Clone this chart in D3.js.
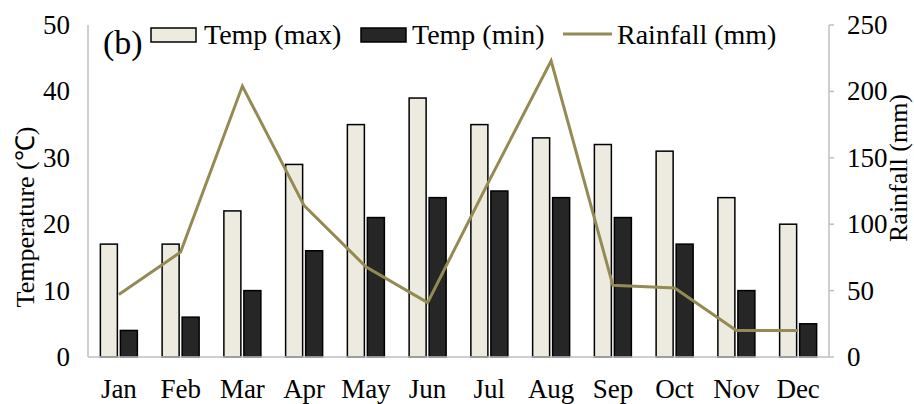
<!DOCTYPE html>
<html>
<head>
<meta charset="utf-8">
<script src="https://cdn.jsdelivr.net/npm/d3@7"></script>
<style>
  body { margin: 0; background: #fff; }
  svg text { font-family: "Liberation Serif", "Times New Roman", serif; fill: #000; }
</style>
</head>
<body>
<svg id="chart" width="914" height="404"></svg>
<script>
  let months = ["Jan", "Feb", "Mar", "Apr", "May", "Jun", "Jul", "Aug", "Sep", "Oct", "Nov", "Dec"];
  let tempMax = [17, 17, 22, 29, 35, 39, 35, 33, 32, 31, 24, 20];
  let tempMin = [4, 6, 10, 16, 21, 24, 25, 24, 21, 17, 10, 5];
  let rainfall = [47, 79, 204, 114, 68, 41, 133, 223, 54, 52, 20, 20];
  let tempTicks = [0, 10, 20, 30, 40, 50];
  let rainTicks = [0, 50, 100, 150, 200, 250];

(function() {
  let plotLeft = 88, plotRight = 829, plotTop = 25, plotBottom = 357;
  let fontSize = 27;
  let legendSize = 28;
  let maxFill = "#edebe0", minFill = "#262626", lineColor = "#948a54", axisColor = "#bfbfbf";

  let svg = d3.select("#chart");

  // scales
  let xScale = d3.scaleBand().domain(months).range([plotLeft, plotRight]);
  let yScale = d3.scaleLinear().domain([0, 50]).range([plotBottom, plotTop]);
  let yScale2 = d3.scaleLinear().domain([0, 250]).range([plotBottom, plotTop]);

  let barW = 17, gap = 3;
  let cx = m => xScale(m) + xScale.bandwidth() / 2;

  // axes lines
  svg.append("line").attr("x1", plotLeft).attr("x2", plotLeft).attr("y1", plotTop).attr("y2", plotBottom)
     .attr("stroke", axisColor).attr("stroke-width", 1.5);
  svg.append("line").attr("x1", plotRight).attr("x2", plotRight).attr("y1", plotTop).attr("y2", plotBottom)
     .attr("stroke", axisColor).attr("stroke-width", 1.5);

  // left tick labels
  svg.selectAll(".ltick").data(tempTicks).enter().append("text")
     .attr("x", 70).attr("y", d => yScale(d)).attr("dy", "0.33em")
     .attr("text-anchor", "end").attr("font-size", fontSize).text(d => d);

  // right ticks
  svg.selectAll(".rtickline").data(rainTicks).enter().append("line")
     .attr("x1", plotRight).attr("x2", plotRight + 5)
     .attr("y1", d => yScale2(d)).attr("y2", d => yScale2(d))
     .attr("stroke", axisColor).attr("stroke-width", 1.5);
  svg.selectAll(".rtick").data(rainTicks).enter().append("text")
     .attr("x", 847).attr("y", d => yScale2(d)).attr("dy", "0.33em")
     .attr("text-anchor", "start").attr("font-size", fontSize).text(d => d);

  // bars
  svg.selectAll(".bar-max").data(months).enter().append("rect")
     .attr("x", (m) => cx(m) - gap / 2 - barW)
     .attr("y", (m, i) => yScale(tempMax[i]))
     .attr("width", barW)
     .attr("height", (m, i) => plotBottom - yScale(tempMax[i]))
     .attr("fill", maxFill).attr("stroke", "#000").attr("stroke-width", 1.5);
  svg.selectAll(".bar-min").data(months).enter().append("rect")
     .attr("x", (m) => cx(m) + gap / 2)
     .attr("y", (m, i) => yScale(tempMin[i]))
     .attr("width", barW)
     .attr("height", (m, i) => plotBottom - yScale(tempMin[i]))
     .attr("fill", minFill).attr("stroke", "#000").attr("stroke-width", 1.5);

  // bottom axis line
  svg.append("line").attr("x1", plotLeft).attr("x2", plotRight).attr("y1", plotBottom).attr("y2", plotBottom)
     .attr("stroke", axisColor).attr("stroke-width", 1.5);

  // rainfall line
  svg.append("path")
     .datum(rainfall)
     .attr("fill", "none").attr("stroke", lineColor).attr("stroke-width", 3)
     .attr("d", d3.line().x((d, i) => cx(months[i])).y(d => yScale2(d)));

  // month labels
  svg.selectAll(".month").data(months).enter().append("text")
     .attr("x", m => cx(m)).attr("y", 398)
     .attr("text-anchor", "middle").attr("font-size", fontSize).text(m => m);

  // axis titles
  svg.append("text")
     .attr("transform", "translate(34,217) rotate(-90)")
     .attr("text-anchor", "middle").attr("font-size", fontSize - 1)
     .text("Temperature (℃)");
  svg.append("text")
     .attr("transform", "translate(907,168) rotate(-90)")
     .attr("text-anchor", "middle").attr("font-size", fontSize - 1)
     .text("Rainfall (mm)");

  // panel label
  svg.append("text").attr("x", 103).attr("y", 54).attr("font-size", 34).text("(b)");

  // legend
  svg.append("rect").attr("x", 151).attr("y", 28).attr("width", 45).attr("height", 14)
     .attr("fill", maxFill).attr("stroke", "#000").attr("stroke-width", 1.5);
  svg.append("text").attr("x", 204).attr("y", 44).attr("font-size", legendSize).text("Temp (max)");
  svg.append("rect").attr("x", 361).attr("y", 28).attr("width", 45).attr("height", 14)
     .attr("fill", minFill).attr("stroke", "#000").attr("stroke-width", 1.5);
  svg.append("text").attr("x", 412).attr("y", 44).attr("font-size", legendSize).text("Temp (min)");
  svg.append("line").attr("x1", 563).attr("x2", 612).attr("y1", 34).attr("y2", 34)
     .attr("stroke", lineColor).attr("stroke-width", 3);
  svg.append("text").attr("x", 617).attr("y", 44).attr("font-size", legendSize).text("Rainfall (mm)");
})();
</script>
</body>
</html>
